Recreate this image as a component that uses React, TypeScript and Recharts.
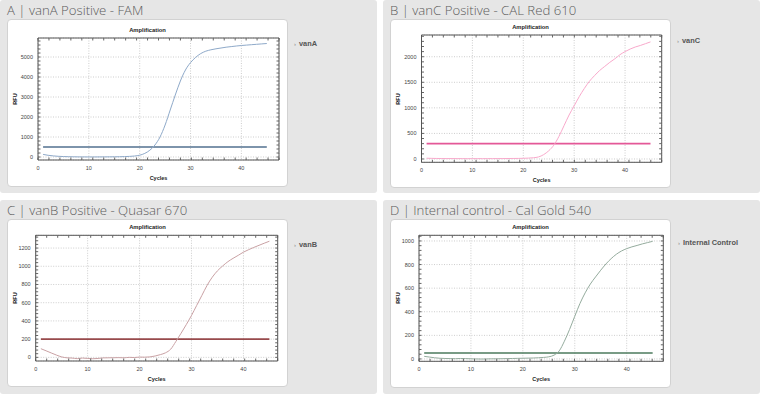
import React from "react";
import { LineChart, Line, XAxis, YAxis, CartesianGrid, ReferenceLine } from "recharts";

// PCR cycles 1..45
const cycles = [
  1, 2, 3, 4, 5, 6, 7, 8, 9, 10, 11, 12, 13, 14, 15, 16, 17, 18, 19, 20, 21, 22, 23,
  24, 25, 26, 27, 28, 29, 30, 31, 32, 33, 34, 35, 36, 37, 38, 39, 40, 41, 42, 43, 44, 45,
];

// RFU per cycle
const vanA = [
  130, 85, 55, 35, 22, 15, 10, 6, 4, 3, 3, 4, 6, 8, 10, 14, 20, 30, 50, 90, 180, 340, 600,
  1000, 1600, 2350, 3100, 3800, 4350, 4720, 4980, 5170, 5290, 5360, 5410, 5450, 5490, 5520,
  5550, 5575, 5595, 5615, 5635, 5655, 5675,
];
const vanC = [
  15, 12, 10, 9, 8, 8, 7, 7, 6, 6, 7, 6, 7, 7, 8, 8, 9, 10, 11, 13, 17, 24, 40, 85, 160, 270,
  440, 650, 860, 1040, 1220, 1380, 1520, 1630, 1730, 1810, 1890, 1960, 2040, 2100, 2150, 2190,
  2220, 2255, 2290,
];
const vanB = [
  95, 72, 48, 25, 5, -5, -8, -14, -8, -12, -15, -12, -6, -5, -4, -3, -5, 0, -2, 3, 2, 5, 15,
  30, 50, 90, 175, 265, 360, 460, 570, 680, 790, 880, 950, 1003, 1050, 1087, 1120, 1155, 1182,
  1207, 1230, 1253, 1275,
];
const internalControl = [
  22, 16, 10, 6, 4, 3, 2, 4, 3, 1, 0, -1, 0, 1, 1, 2, 3, 4, 5, 6, 7, 8, 10, 13, 18, 32, 68,
  150, 250, 362, 470, 560, 635, 695, 752, 805, 850, 887, 915, 935, 950, 962, 975, 986, 997,
];

// thresholds
const vanAThreshold = 500;
const vanCThreshold = 300;
const vanBThreshold = 200;
const icThreshold = 50;

// ticks
const xTicks = [0, 10, 20, 30, 40];
const xMinorTicks = [0, 2, 4, 6, 8, 10, 12, 14, 16, 18, 20, 22, 24, 26, 28, 30, 32, 34, 36, 38, 40, 42, 44, 46];
const vanATicks = [0, 1000, 2000, 3000, 4000, 5000];
const vanAMinor = [0, 200, 400, 600, 800, 1000, 1200, 1400, 1600, 1800, 2000, 2200, 2400, 2600, 2800, 3000, 3200, 3400, 3600, 3800, 4000, 4200, 4400, 4600, 4800, 5000, 5200, 5400, 5600, 5800];
const vanCTicks = [0, 500, 1000, 1500, 2000];
const vanCMinor = [0, 100, 200, 300, 400, 500, 600, 700, 800, 900, 1000, 1100, 1200, 1300, 1400, 1500, 1600, 1700, 1800, 1900, 2000, 2100, 2200, 2300, 2400];
const vanBTicks = [0, 200, 400, 600, 800, 1000, 1200];
const vanBMinor = [0, 40, 80, 120, 160, 200, 240, 280, 320, 360, 400, 440, 480, 520, 560, 600, 640, 680, 720, 760, 800, 840, 880, 920, 960, 1000, 1040, 1080, 1120, 1160, 1200, 1240, 1280, 1320];
const icTicks = [0, 200, 400, 600, 800, 1000];
const icMinor = [0, 40, 80, 120, 160, 200, 240, 280, 320, 360, 400, 440, 480, 520, 560, 600, 640, 680, 720, 760, 800, 840, 880, 920, 960, 1000, 1040];

const SMALL = "'Liberation Sans', Arial, sans-serif";
const tickStyle = { fontSize: 5.5, fill: "#444", fontFamily: SMALL };

function AmpPanel(p: any) {
  const { box, card, plot } = p;
  const data = cycles.map((c, i) => ({ cycle: c, rfu: p.values[i] }));
  const cw = card.w - 2;
  const ch = card.h - 2;
  const ox = card.x + 1;
  const oy = card.y + 1;
  const yAxisW = plot.l - ox;
  const xAxisH = oy + ch - plot.b;
  const xDomain = [0, p.xMax];
  const yDomain = [p.yMin, p.yMax];
  return (
    <div style={{ position: "absolute", left: box.x, top: box.y, width: box.w, height: box.h, background: "#e6e6e6", borderRadius: 3 }}>
      <div style={{ position: "absolute", left: 7, top: 2, fontFamily: "'Open Sans', sans-serif", fontWeight: 300, fontSize: 13.2, lineHeight: "16px", color: "#5c5c5c", whiteSpace: "nowrap" }}>
        {p.title}
      </div>
      <div style={{ position: "absolute", left: card.x - box.x, top: card.y - box.y, width: card.w, height: card.h, boxSizing: "border-box", background: "#fff", border: "1px solid #d2d2d2", borderRadius: 4 }}>
        <div style={{ position: "absolute", left: 0, right: 0, top: plot.t - oy - 12.5, textAlign: "center", fontFamily: SMALL, fontWeight: 700, fontSize: 5.8, lineHeight: "8px", color: "#222" }}>
          Amplification
        </div>
        <div style={{ position: "absolute", left: 7 - 10, top: (plot.t + plot.b) / 2 - oy - 4, width: 20, textAlign: "center", transform: "rotate(-90deg)", fontFamily: SMALL, fontWeight: 700, fontSize: 5.5, lineHeight: "8px", color: "#222" }}>
          RFU
        </div>
        <div style={{ position: "absolute", left: plot.l - ox, width: plot.r - plot.l, top: plot.b - oy + 13.5, textAlign: "center", fontFamily: SMALL, fontWeight: 700, fontSize: 5.5, lineHeight: "8px", color: "#222" }}>
          Cycles
        </div>
        <div style={{ position: "absolute", left: 0, top: 0 }}>
          <LineChart width={cw} height={ch} data={data} margin={{ top: plot.t - oy, right: ox + cw - plot.r, bottom: 0, left: 0 }}>
            <CartesianGrid xAxisId="x" yAxisId="y" stroke="#b8b8b8" strokeDasharray="1 1.5" strokeWidth={0.7} />
            <XAxis xAxisId="xb" type="number" orientation="bottom" mirror domain={xDomain} allowDataOverflow ticks={xMinorTicks} interval={0} height={1} tickSize={2.5} tickFormatter={() => ""} axisLine={false} tickLine={{ stroke: "#666" }} />
            <XAxis xAxisId="x" dataKey="cycle" type="number" domain={xDomain} allowDataOverflow ticks={xTicks} interval={0} height={xAxisH} tickSize={0} tickMargin={6} tick={tickStyle} axisLine={{ stroke: "#555" }} tickLine={false} />
            <XAxis xAxisId="xt" type="number" orientation="top" mirror domain={xDomain} allowDataOverflow ticks={xMinorTicks} interval={0} height={1} tickSize={2.5} tickFormatter={() => ""} axisLine={{ stroke: "#555" }} tickLine={{ stroke: "#666" }} />
            <YAxis yAxisId="yl" type="number" orientation="left" mirror domain={yDomain} allowDataOverflow ticks={p.yMinor} interval={0} width={1} tickSize={2.5} tickFormatter={() => ""} axisLine={false} tickLine={{ stroke: "#666" }} />
            <YAxis yAxisId="y" type="number" domain={yDomain} allowDataOverflow ticks={p.yTicks} interval={0} width={yAxisW} tickSize={0} tickMargin={5} tick={tickStyle} axisLine={{ stroke: "#555" }} tickLine={false} />
            <YAxis yAxisId="yr" type="number" orientation="right" mirror domain={yDomain} allowDataOverflow ticks={p.yMinor} interval={0} width={1} tickSize={2.5} tickFormatter={() => ""} axisLine={{ stroke: "#555" }} tickLine={{ stroke: "#666" }} />
            <ReferenceLine xAxisId="x" yAxisId="y" segment={[{ x: cycles[0], y: p.threshold }, { x: cycles[cycles.length - 1], y: p.threshold }]} stroke={p.thrColor} strokeWidth={1.6} ifOverflow="visible" />
            <Line xAxisId="x" yAxisId="y" type="monotone" dataKey="rfu" stroke={p.curveColor} strokeWidth={1} dot={false} isAnimationActive={false} />
          </LineChart>
        </div>
      </div>
      <div style={{ position: "absolute", left: p.legendX - box.x - 6, top: p.legendY - box.y - 5, fontFamily: SMALL, fontWeight: 700, fontSize: 7.4, lineHeight: "10px", color: "#555", whiteSpace: "nowrap" }}>
        <span style={{ color: "#888", fontWeight: 400, fontSize: 6, marginRight: 3 }}>›</span>
        {p.legend}
      </div>
    </div>
  );
}

export default function App() {
  return (
    <div style={{ position: "absolute", left: 0, top: 0, width: 760, height: 394, background: "#fff", overflow: "hidden" }}>
      <AmpPanel
        box={{ x: 0, y: 0, w: 377, h: 193 }}
        card={{ x: 7, y: 19, w: 281, h: 168 }}
        plot={{ l: 38, t: 38, r: 279, b: 160 }}
        title="A | vanA Positive - FAM"
        xMax={47.4} yMin={-150} yMax={5950}
        yTicks={vanATicks} yMinor={vanAMinor}
        values={vanA} threshold={vanAThreshold}
        curveColor="#8ea9c9" thrColor="#52708f"
        legend="vanA" legendX={300} legendY={44}
      />
      <AmpPanel
        box={{ x: 383, y: 0, w: 377, h: 193 }}
        card={{ x: 390, y: 19, w: 281, h: 169 }}
        plot={{ l: 421.5, t: 35, r: 661.7, b: 162.3 }}
        title="B | vanC Positive - CAL Red 610"
        xMax={47.2} yMin={-65} yMax={2425}
        yTicks={vanCTicks} yMinor={vanCMinor}
        values={vanC} threshold={vanCThreshold}
        curveColor="#f8a9cb" thrColor="#e45898"
        legend="vanC" legendX={683} legendY={41}
      />
      <AmpPanel
        box={{ x: 0, y: 200, w: 377, h: 194 }}
        card={{ x: 7, y: 219, w: 281, h: 168 }}
        plot={{ l: 35.7, t: 235.3, r: 277.7, b: 361 }}
        title="C | vanB Positive - Quasar 670"
        xMax={46.6} yMin={-40} yMax={1340}
        yTicks={vanBTicks} yMinor={vanBMinor}
        values={vanB} threshold={vanBThreshold}
        curveColor="#c9a1a4" thrColor="#984a4c"
        legend="vanB" legendX={300} legendY={245}
      />
      <AmpPanel
        box={{ x: 383, y: 200, w: 377, h: 194 }}
        card={{ x: 390, y: 219, w: 281, h: 169 }}
        plot={{ l: 419, t: 235.3, r: 663.3, b: 361.3 }}
        title="D | Internal control - Cal Gold 540"
        xMax={47.05} yMin={-20} yMax={1048}
        yTicks={icTicks} yMinor={icMinor}
        values={internalControl} threshold={icThreshold}
        curveColor="#94ab9d" thrColor="#4b7a5d"
        legend="Internal Control" legendX={684} legendY={243}
      />
    </div>
  );
}
